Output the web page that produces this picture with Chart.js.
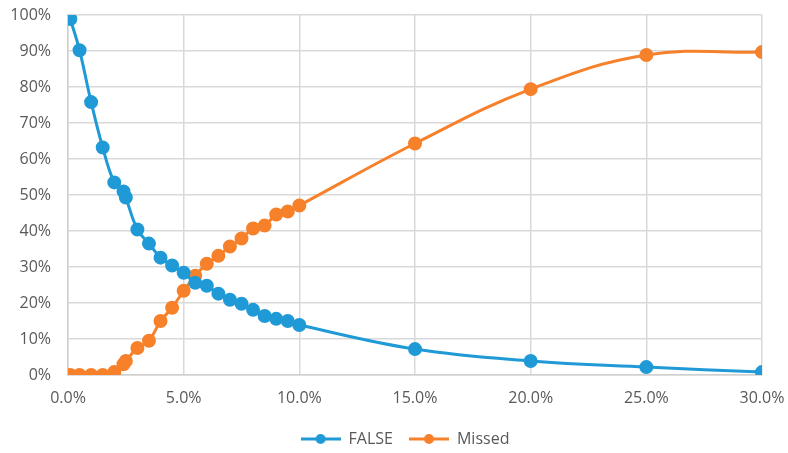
<!DOCTYPE html>
<html><head><meta charset="utf-8">
<script src="https://cdn.jsdelivr.net/npm/chart.js@4/dist/chart.umd.min.js"></script>
<style>html,body{margin:0;padding:0;background:#fff}#wrap{width:788px;height:453px}</style>
</head><body><div id="wrap"><canvas id="c" width="788" height="453"></canvas></div>
<script>
const xValues = [0.001,0.005,0.01,0.015,0.02,0.024,0.025,0.03,0.035,0.04,0.045,0.05,0.055,0.06,0.065,0.07,0.075,0.08,0.085,0.09,0.095,0.10,0.15,0.20,0.25,0.30];
const falseValues = [0.989,0.902,0.758,0.632,0.535,0.510,0.493,0.404,0.365,0.326,0.304,0.284,0.256,0.248,0.226,0.209,0.198,0.181,0.164,0.156,0.150,0.139,0.072,0.039,0.022,0.008];
const missedValues = [0,0,0,0,0.008,0.030,0.039,0.075,0.095,0.150,0.187,0.234,0.276,0.309,0.331,0.357,0.379,0.407,0.415,0.446,0.454,0.471,0.643,0.794,0.889,0.897];
const seriesNames = ['FALSE','Missed'];
const colors = ['#1f9ad6','#f7812a'];
const FONT = 'Open Sans';

function pts(ys){ return xValues.map((x,i)=>({x:x,y:ys[i]})); }
function legendIcon(color){
  const c=document.createElement('canvas'); c.width=40; c.height=12;
  const g=c.getContext('2d');
  g.strokeStyle=color; g.lineWidth=3; g.beginPath(); g.moveTo(0,6); g.lineTo(40,6); g.stroke();
  g.fillStyle=color; g.beginPath(); g.arc(20,6,5,0,Math.PI*2); g.fill();
  return c;
}
const icons = colors.map(legendIcon);
const legendShift = {id:'legendShift',afterLayout(chart){ if(chart.legend){ chart.legend.left += 11; chart.legend.right += 11; } }};

new Chart(document.getElementById('c'),{
  type:'scatter',
  data:{datasets:[
    {label:seriesNames[0],data:pts(falseValues),showLine:true,borderColor:colors[0],backgroundColor:colors[0],borderWidth:3,pointRadius:5.5,pointHoverRadius:5.5,tension:0.4},
    {label:seriesNames[1],data:pts(missedValues),showLine:true,borderColor:colors[1],backgroundColor:colors[1],borderWidth:3,pointRadius:5.5,pointHoverRadius:5.5,tension:0.4}
  ]},
  plugins:[legendShift],
  options:{
    responsive:false,animation:false,
    layout:{padding:{left:0,right:0,top:15,bottom:-4}},
    plugins:{
      tooltip:{enabled:false},
      legend:{position:'bottom',labels:{
        font:{family:FONT,size:16},color:'#595959',usePointStyle:true,pointStyleWidth:40,padding:16,
        generateLabels:(chart)=>chart.data.datasets.map((d,i)=>({text:d.label,pointStyle:icons[i],fillStyle:colors[i],strokeStyle:colors[i],lineWidth:0,fontColor:'#595959',datasetIndex:i,hidden:false}))
      }}
    },
    scales:{
      x:{type:'linear',min:0,max:0.3,
        afterFit:s=>{s.paddingLeft=0;s.paddingRight=26;s.height=40;},
        ticks:{stepSize:0.05,callback:v=>(v*100).toFixed(1)+'%',font:{family:FONT,size:16},color:'#595959',padding:14},
        grid:{color:'#d9d9d9',lineWidth:1.5,drawTicks:false},border:{color:'#d0d0d0',width:1.5}},
      y:{min:0,max:1,
        afterFit:s=>{s.width=68;s.paddingTop=0;s.paddingBottom=0;},
        ticks:{stepSize:0.1,callback:v=>Math.round(v*100)+'%',font:{family:FONT,size:16},color:'#595959',padding:17},
        grid:{color:'#d9d9d9',lineWidth:1.5,drawTicks:false},border:{color:'#d0d0d0',width:1.5}}
    }
  }
});
</script></body></html>
